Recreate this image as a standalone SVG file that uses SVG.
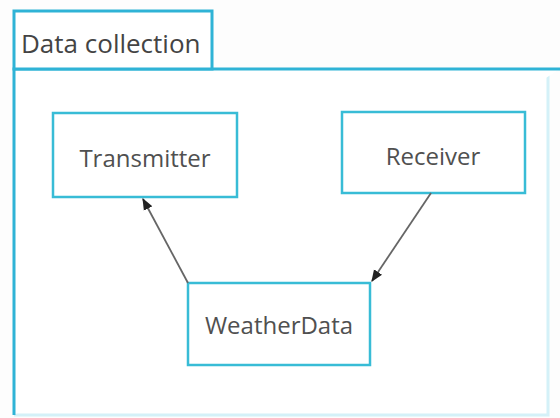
<svg xmlns="http://www.w3.org/2000/svg" width="560" height="418" viewBox="0 0 560 418">
  <style>
    .pkg { fill: #ffffff; stroke: #2fb3d6; stroke-width: 3; }
    .pkg-faint { fill: none; stroke: #d4f1f8; stroke-width: 3; }
    .cls { fill: #ffffff; stroke: #38bcd6; stroke-width: 2.5; }
    .title { font-family: "Open Sans", "Noto Sans", sans-serif; font-size: 26px; fill: #444444; }
    .label { font-family: "Open Sans", "Noto Sans", sans-serif; font-size: 24px; fill: #505050; text-anchor: middle; }
    .link { stroke: #666666; stroke-width: 1.8; fill: none; marker-end: url(#arrow); }
  </style>
  <defs>
    <marker id="arrow" viewBox="0 0 10 10" refX="9" refY="5" markerWidth="12" markerHeight="12" markerUnits="userSpaceOnUse" orient="auto">
      <path d="M0,1 L10,5 L0,9 z" fill="#222222"/>
    </marker>
  </defs>
  <rect width="560" height="418" fill="#fdfdfd"/>

  <!-- package frame: strong left/top edges, faint right/bottom edges -->
  <g id="package">
    <rect x="14" y="69" width="534" height="346" fill="#ffffff"/>
    <path class="pkg-faint" d="M548,69 V415 H14"/>
    <path class="pkg" fill="none" d="M14,415 V69 H560"/>
    <rect class="pkg" x="14" y="11" width="198" height="58"/>
    <text class="title" x="21" y="53">Data collection</text>
  </g>

  <g id="transmitter">
    <rect class="cls" x="53" y="113" width="184" height="84"/>
    <text class="label" x="145" y="167">Transmitter</text>
  </g>

  <g id="receiver">
    <rect class="cls" x="342" y="112" width="183" height="81"/>
    <text class="label" x="433" y="165">Receiver</text>
  </g>

  <g id="weatherdata">
    <rect class="cls" x="188" y="283" width="182" height="82"/>
    <text class="label" x="279" y="334">WeatherData</text>
  </g>

  <g id="connectors">
    <line class="link" x1="188" y1="283" x2="143" y2="199"/>
    <line class="link" x1="431" y1="193" x2="372" y2="281"/>
  </g>
</svg>
